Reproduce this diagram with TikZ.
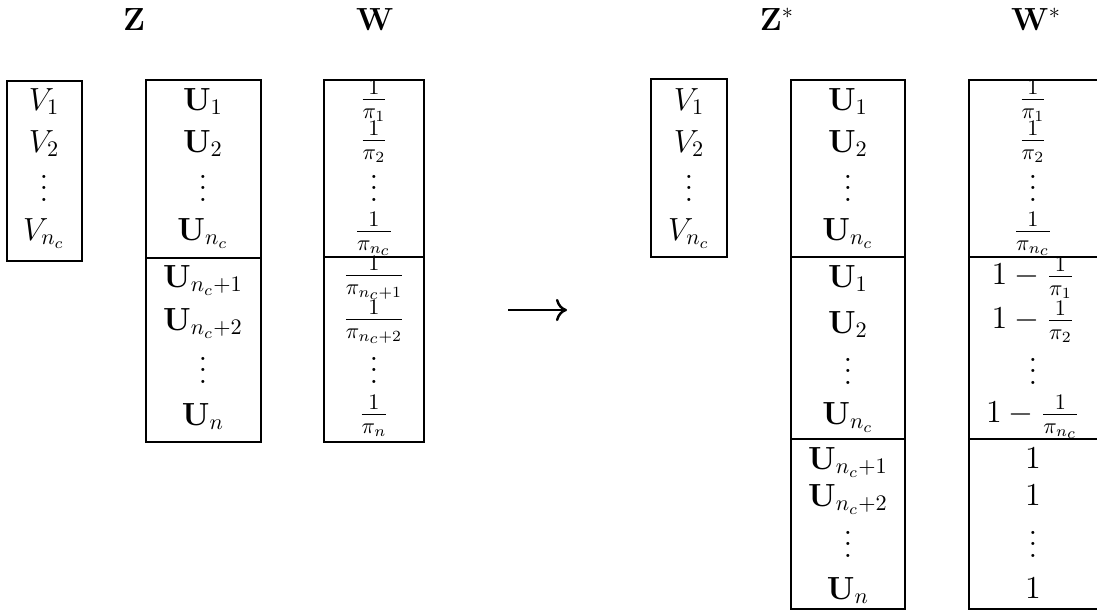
\documentclass[tikz,border=0pt]{standalone}
\usetikzlibrary{arrows.meta}
\newcommand{\drawframe}[4]{% Parameters: left, top, right, bottom
  \draw[frame] (#1,#2) rectangle (#3,#4);
}
\newcommand{\drawsplit}[3]{% Parameters: left, right, level
  \draw[frame] (#1,#3) -- (#2,#3);
}
\newcommand{\vdotsbox}{\vbox{\baselineskip5pt\lineskiplimit0pt\hbox{.}\hbox{.}\hbox{.}}}
\tikzset{
  frame/.style={draw=black,line width=0.8pt},
  entry/.style={anchor=base,inner sep=0pt,font=\Large},
  heading/.style={anchor=base,inner sep=0pt,font=\Large},
  mapsto/.style={-{To[length=5pt,width=10pt]},line width=1.1pt}
}

\begin{document}
\begin{tikzpicture}[x=0.45pt,y=-0.45pt]
  \useasboundingbox (0,0) rectangle (1097,612);
  % headings
  \node[heading] (zhead) at (134,30) {$\mathbf{Z}$};
  \node[heading] (whead) at (375,30) {$\mathbf{W}$};
  \node[heading] (zshead) at (777,30) {$\mathbf{Z}^*$};
  \node[heading] (wshead) at (1036,30) {$\mathbf{W}^*$};
  % frames, before
  \drawframe{7}{81}{82}{261}
  \drawframe{146}{80}{261}{442}
  \drawsplit{146}{261}{258}
  \drawframe{324}{80}{424}{442}
  \drawsplit{324}{424}{257}
  % frames, after
  \drawframe{651}{79}{727}{257}
  \drawframe{791}{80}{905}{609}
  \drawsplit{791}{905}{257}
  \drawsplit{791}{905}{439}
  \drawframe{969}{80}{1110}{609}
  \drawsplit{969}{1110}{257}
  \drawsplit{969}{1110}{439}
  % V, before
  \node[entry] (lv1) at (44,110) {$V_1$};
  \node[entry] (lv2) at (44,152) {$V_2$};
  \node[entry] (lvdots) at (44,201) {\vdotsbox};
  \node[entry] (lvnc) at (44,240) {$V_{n_c}$};
  % Z
  \node[entry] (lz1) at (203,110) {$\mathbf{U}_1$};
  \node[entry] (lz2) at (203,152) {$\mathbf{U}_2$};
  \node[entry] (lzdots) at (203,201) {\vdotsbox};
  \node[entry] (lznc) at (203,240) {$\mathbf{U}_{n_c}$};
  \node[entry] (lzc1) at (203,287) {$\mathbf{U}_{n_c+1}$};
  \node[entry] (lzc2) at (203,330) {$\mathbf{U}_{n_c+2}$};
  \node[entry] (lzcdots) at (203,383) {\vdotsbox};
  \node[entry] (lzn) at (203,425) {$\mathbf{U}_n$};
  % W
  \node[entry] (lw1) at (374,107) {$\frac{1}{\pi_1}$};
  \node[entry] (lw2) at (374,148) {$\frac{1}{\pi_2}$};
  \node[entry] (lwdots) at (374,201) {\vdotsbox};
  \node[entry] (lwnc) at (374,239) {$\frac{1}{\pi_{n_c}}$};
  \node[entry] (lwc1) at (374,283) {$\frac{1}{\pi_{n_c+1}}$};
  \node[entry] (lwc2) at (374,327) {$\frac{1}{\pi_{n_c+2}}$};
  \node[entry] (lwcdots) at (374,383) {\vdotsbox};
  \node[entry] (lwn) at (374,422) {$\frac{1}{\pi_n}$};
  % arrow
  \coordinate (arrfrom) at (508,310);
  \coordinate (arrto) at (567,310);
  \draw[mapsto] (arrfrom) -- (arrto);
  % V, after
  \node[entry] (rv1) at (689,110) {$V_1$};
  \node[entry] (rv2) at (689,152) {$V_2$};
  \node[entry] (rvdots) at (689,201) {\vdotsbox};
  \node[entry] (rvnc) at (689,240) {$V_{n_c}$};
  % Z*
  \node[entry] (rz1) at (848,110) {$\mathbf{U}_1$};
  \node[entry] (rz2) at (848,152) {$\mathbf{U}_2$};
  \node[entry] (rzdots) at (848,201) {\vdotsbox};
  \node[entry] (rznc) at (848,240) {$\mathbf{U}_{n_c}$};
  \node[entry] (rzb1) at (848,287) {$\mathbf{U}_1$};
  \node[entry] (rzb2) at (848,333) {$\mathbf{U}_2$};
  \node[entry] (rzbdots) at (848,384) {\vdotsbox};
  \node[entry] (rzbnc) at (848,424) {$\mathbf{U}_{n_c}$};
  \node[entry] (rzc1) at (848,469) {$\mathbf{U}_{n_c+1}$};
  \node[entry] (rzc2) at (848,506) {$\mathbf{U}_{n_c+2}$};
  \node[entry] (rzcdots) at (848,557) {\vdotsbox};
  \node[entry] (rzn) at (848,599) {$\mathbf{U}_n$};
  % W*
  \node[entry] (rw1) at (1033,107) {$\frac{1}{\pi_1}$};
  \node[entry] (rw2) at (1033,148) {$\frac{1}{\pi_2}$};
  \node[entry] (rwdots) at (1033,201) {\vdotsbox};
  \node[entry] (rwnc) at (1033,239) {$\frac{1}{\pi_{n_c}}$};
  \node[entry] (rwb1) at (1033,284) {$1-\frac{1}{\pi_1}$};
  \node[entry] (rwb2) at (1033,328) {$1-\frac{1}{\pi_2}$};
  \node[entry] (rwbdots) at (1033,384) {\vdotsbox};
  \node[entry] (rwbnc) at (1033,422) {$1-\frac{1}{\pi_{n_c}}$};
  \node[entry] (rwc1) at (1033,468) {$1$};
  \node[entry] (rwc2) at (1033,505) {$1$};
  \node[entry] (rwcdots) at (1033,557) {\vdotsbox};
  \node[entry] (rwn) at (1033,598) {$1$};
\end{tikzpicture}
\end{document}
